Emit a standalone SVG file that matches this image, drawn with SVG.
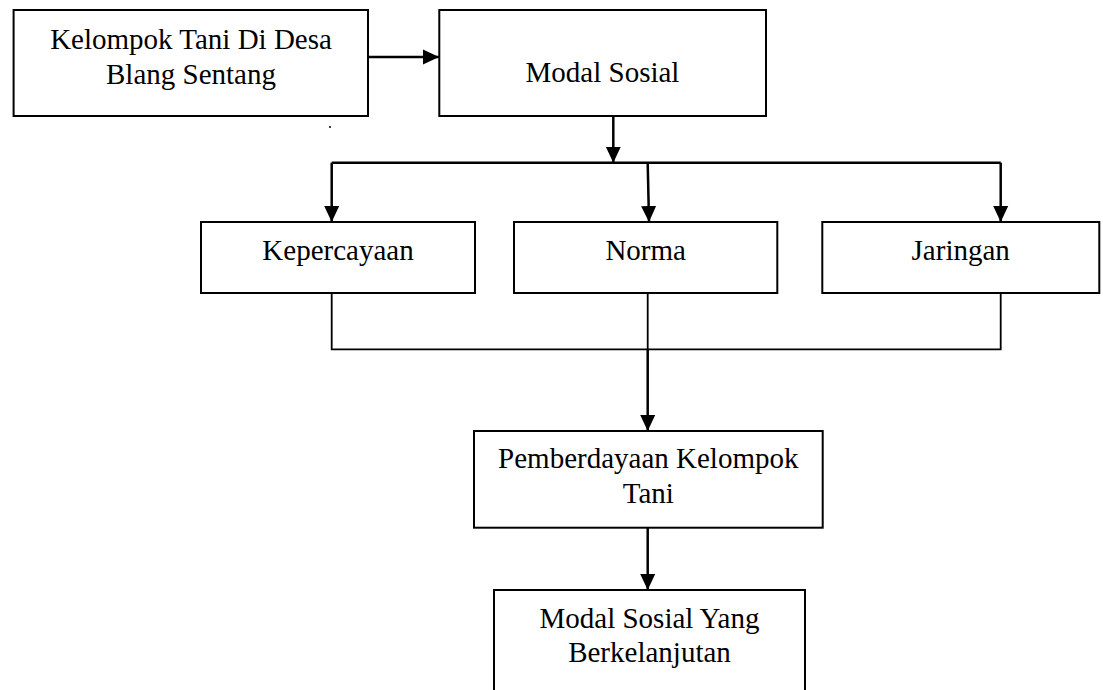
<svg xmlns="http://www.w3.org/2000/svg" width="1103" height="690" viewBox="0 0 1103 690">
<style>
.box{fill:#fff;stroke:#000;stroke-width:2}
.t{font-family:"Liberation Serif","Times New Roman",serif;font-size:29px;fill:#000;text-anchor:middle}
.c{fill:none;stroke:#000;stroke-width:2.5}
.m{fill:none;stroke:#000;stroke-width:1.8}
</style>
<defs>
<marker id="ah" viewBox="0 0 16 16" refX="16" refY="8" markerWidth="16" markerHeight="16" markerUnits="userSpaceOnUse" orient="auto">
<path d="M0,0.5 L16,8 L0,15.5 Z" fill="#000"/>
</marker>
</defs>
<rect width="1103" height="690" fill="#fff"/>
<g id="connectors">
<line class="c" x1="368" y1="57" x2="439" y2="57" marker-end="url(#ah)"/>
<line class="c" x1="613.3" y1="106" x2="613.3" y2="162.7" marker-end="url(#ah)"/>
<line class="c" x1="331.7" y1="162.7" x2="1000.7" y2="162.7"/>
<line class="c" x1="331.7" y1="162.7" x2="331.7" y2="222" marker-end="url(#ah)"/>
<line class="c" x1="647.7" y1="162.7" x2="649" y2="222" marker-end="url(#ah)"/>
<line class="c" x1="1000.7" y1="162.7" x2="1000.7" y2="222" marker-end="url(#ah)"/>
<polyline class="m" points="331.7,293 331.7,349.3 1000.7,349.3 1000.7,293"/>
<line class="m" x1="647.7" y1="293" x2="647.7" y2="349.3"/>
<line class="c" x1="647.7" y1="349.3" x2="647.7" y2="431" marker-end="url(#ah)"/>
<line class="c" x1="647.7" y1="527.7" x2="647.7" y2="590" marker-end="url(#ah)"/>
</g>
<g id="n1"><rect class="box" x="13.6" y="10" width="354.4" height="106"/><text class="t" x="191" y="49">Kelompok Tani Di Desa</text><text class="t" x="191" y="84">Blang Sentang</text></g>
<g id="n2"><rect class="box" x="439.3" y="10" width="326.7" height="106"/><text class="t" x="602.5" y="81.7">Modal Sosial</text></g>
<g id="n3"><rect class="box" x="201" y="222" width="274" height="71"/><text class="t" x="338" y="260">Kepercayaan</text></g>
<g id="n4"><rect class="box" x="514" y="222" width="263.3" height="71"/><text class="t" x="645.7" y="260">Norma</text></g>
<g id="n5"><rect class="box" x="822.3" y="222" width="277" height="71"/><text class="t" x="960.7" y="260">Jaringan</text></g>
<g id="n6"><rect class="box" x="474" y="431" width="348.7" height="96.7"/><text class="t" x="648.3" y="468">Pemberdayaan Kelompok</text><text class="t" x="648.3" y="503">Tani</text></g>
<g id="n7"><rect class="box" x="494" y="590" width="311" height="120"/><text class="t" x="649.5" y="627.7">Modal Sosial Yang</text><text class="t" x="649.5" y="661.7">Berkelanjutan</text></g>
<circle cx="330" cy="127" r="1" fill="#000"/>
</svg>
